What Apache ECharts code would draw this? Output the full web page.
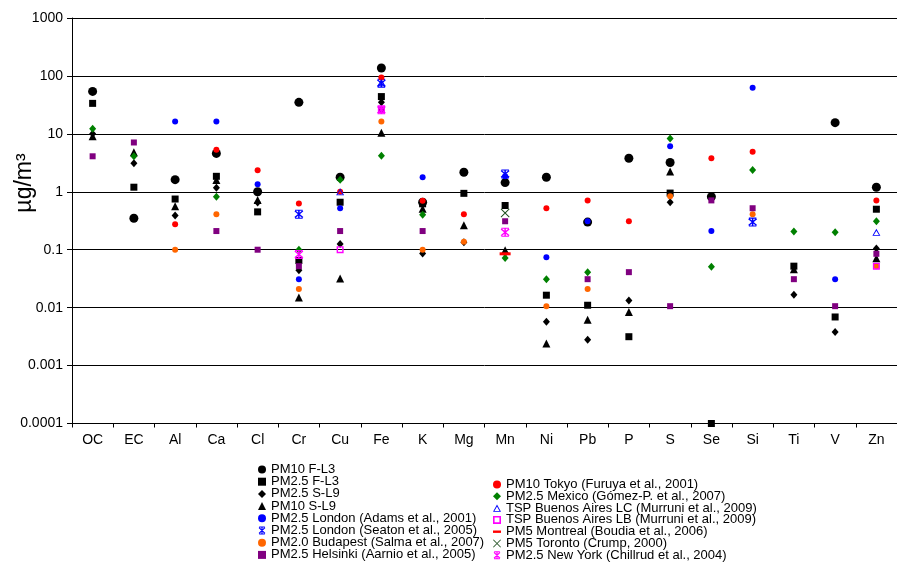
<!DOCTYPE html>
<html>
<head>
<meta charset="utf-8">
<script src="https://cdn.jsdelivr.net/npm/echarts@6/dist/echarts.min.js"></script>
<style>
html,body{margin:0;padding:0;background:#fff;}
#chart{width:897px;height:562px;}
</style>
</head>
<body>
<div id="chart"></div>
<script>
const categories = ['OC','EC','Al','Ca','Cl','Cr','Cu','Fe','K','Mg','Mn','Ni','Pb','P','S','Se','Si','Ti','V','Zn'];
const yTickLabels = ['0.0001','0.001','0.01','0.1','1','10','100','1000'];

//                    OC    EC    Al    Ca    Cl    Cr     Cu     Fe   K      Mg     Mn     Ni      Pb      P       S     Se      Si    Ti     V       Zn
const pm10FL3    = [54,   0.35, 1.62, 4.6,  1.0,  35,    1.78,  137, 0.66,  2.17,  1.44,  1.78,   0.3,    3.8,    3.2,  0.82,   null, null,  15.6,   1.2];
const pm25FL3    = [33.6, 1.2,  0.75, 1.85, 0.45, 0.065, 0.66,  44,  0.62,  0.94,  0.58,  0.0164, 0.011,  0.00315,0.95, 0.0001, null, 0.052, 0.0069, 0.5];
const pm25SL9    = [10,   3.1,  0.39, 1.17, 0.65, 0.044, 0.126, 35,  0.086, 0.135, 0.088, 0.0057, 0.0028, 0.0133, 0.66, null,   null, 0.0167,0.0038, 0.105];
const pm10SL9    = [9.1,  4.8,  0.56, 1.6,  0.72, 0.015, 0.032, 10.4,0.51,  0.264, 0.098, 0.0024, 0.0062, 0.0084, 2.23, null,   null, 0.046, null,   0.071];
const londonAdams  = [null, null, 16.4, 16.4, 1.35, 0.031, 0.52, null, 1.78, null, 1.85, 0.074, 0.31, null, 6.1, 0.21, 62.6, null, 0.031, null];
const londonSeaton = [null, null, null, null, null, 0.41, null, 75, null, null, 2.03, null, null, null, null, null, 0.30, null, null, null];
const budapest     = [null, null, 0.1, 0.41, null, 0.021, null, 16.4, 0.1, 0.137, null, 0.0106, 0.021, null, 0.84, null, 0.41, null, null, 0.052];
const helsinki     = [4.1, 7.1, null, 0.21, 0.1, 0.052, 0.21, 26, 0.21, null, 0.31, null, 0.031, 0.041, 0.0106, 0.71, 0.52, 0.031, 0.0106, 0.085];
const tokyo        = [null, null, 0.275, 5.3, 2.35, 0.63, 1.0, 94, 0.7, 0.41, null, 0.52, 0.71, 0.31, null, 3.78, 4.93, null, null, 0.71];
const mexico       = [12.3, 4.1, null, 0.82, null, 0.1, 1.62, 4.2, 0.4, null, 0.072, 0.031, 0.041, null, 8.3, 0.051, 2.38, 0.206, 0.2, 0.31];
const buenosAiresLC = [null, null, null, null, null, null, 1.0, 77, null, null, null, null, null, null, null, null, null, null, null, 0.2];
const buenosAiresLB = [null, null, null, null, null, null, 0.1, 26, null, null, null, null, null, null, null, null, null, null, null, 0.052];
const montreal     = [null, null, null, null, null, null, null, null, null, null, 0.085, null, null, null, null, null, null, null, null, null];
const toronto      = [null, null, null, null, null, null, null, null, null, null, 0.43, null, null, null, null, null, null, null, null, null];
const newYork      = [null, null, null, null, null, 0.083, null, 26, null, null, 0.2, null, null, null, null, null, null, null, null, null];

const ASTER = 'path://M4.3,0 L5.7,0 L5.7,10 L4.3,10 Z M1.8,0.8 L9.2,8.2 L8.2,9.2 L0.8,1.8 Z M8.2,0.8 L9.2,1.8 L1.8,9.2 L0.8,8.2 Z M1.5,0 L8.5,0 L8.5,1.2 L1.5,1.2 Z M1.5,8.8 L8.5,8.8 L8.5,10 L1.5,10 Z';
const XMARK = 'path://M1.2,0.5 L9.5,8.8 L8.8,9.5 L0.5,1.2 Z M8.8,0.5 L9.5,1.2 L1.2,9.5 L0.5,8.8 Z';
const OPENTRI = 'path://M5,0 L10,9 L0,9 Z M5,2.4 L1.8,8 L8.2,8 Z';
const OPENSQ = 'path://M0,0 L10,0 L10,10 L0,10 Z M2,2 L2,8 L8,8 L8,2 Z';
const DASH = 'path://M0,0 L10,0 L10,3 L0,3 Z';

const defs = [
  {name:'PM10 F-L3', data:pm10FL3, symbol:'circle', size:9, color:'#000000'},
  {name:'PM2.5 F-L3', data:pm25FL3, symbol:'rect', size:7, color:'#000000'},
  {name:'PM2.5 S-L9', data:pm25SL9, symbol:'diamond', size:[7,8], color:'#000000'},
  {name:'PM10 S-L9', data:pm10SL9, symbol:'triangle', size:8, color:'#000000'},
  {name:'PM2.5 London (Adams et al., 2001)', data:londonAdams, symbol:'circle', size:6, color:'#0000FF'},
  {name:'PM2.5 London (Seaton et al., 2005)', data:londonSeaton, symbol:ASTER, size:9, color:'#0000FF'},
  {name:'PM2.0 Budapest (Salma et al., 2007)', data:budapest, symbol:'circle', size:6, color:'#FF6600'},
  {name:'PM2.5 Helsinki (Aarnio et al., 2005)', data:helsinki, symbol:'rect', size:6, color:'#800080'},
  {name:'PM10 Tokyo (Furuya et al., 2001)', data:tokyo, symbol:'circle', size:6, color:'#FF0000'},
  {name:'PM2.5 Mexico (Gómez-P. et al., 2007)', data:mexico, symbol:'diamond', size:[7,8], color:'#008000'},
  {name:'TSP Buenos Aires LC (Murruni et al., 2009)', data:buenosAiresLC, symbol:OPENTRI, size:[8,7], color:'#0000FF'},
  {name:'TSP Buenos Aires LB (Murruni et al., 2009)', data:buenosAiresLB, symbol:OPENSQ, size:7, color:'#FF00FF'},
  {name:'PM5 Montreal (Boudia et al., 2006)', data:montreal, symbol:DASH, size:[11,3], color:'#FF0000'},
  {name:'PM5 Toronto (Crump, 2000)', data:toronto, symbol:XMARK, size:9, color:'#1F4F1F'},
  {name:'PM2.5 New York (Chillrud et al., 2004)', data:newYork, symbol:ASTER, size:9, color:'#FF00FF'}
];

const series = defs.map(d => ({
  type:'scatter',
  name:d.name,
  data:d.data.map(v => v == null ? '-' : v),
  symbol:d.symbol,
  symbolSize:d.size,
  itemStyle:{color:d.color, opacity:1},
  silent:true
}));

const legendText = {fontFamily:'Liberation Sans, Arial, sans-serif', fontSize:13, color:'#000', lineHeight:12};

const chart = echarts.init(document.getElementById('chart'), null, {renderer:'canvas'});
chart.setOption({
  animation:false,
  backgroundColor:'#ffffff',
  grid:{left:72, top:18, width:835, height:405.5, containLabel:false},
  xAxis:{
    type:'category',
    data:categories,
    boundaryGap:true,
    axisLine:{show:true, lineStyle:{color:'#000', width:1}},
    axisTick:{show:true, length:4, lineStyle:{color:'#000'}, interval:0},
    axisLabel:{interval:0, margin:10, fontFamily:'Liberation Sans, Arial, sans-serif', fontSize:14, color:'#000'},
    splitLine:{show:false}
  },
  yAxis:{
    type:'log',
    logBase:10,
    min:0.0001,
    max:1000,
    splitNumber:7,
    axisLine:{show:true, lineStyle:{color:'#000', width:1}},
    axisTick:{show:true, length:5, inside:false, lineStyle:{color:'#000'}},
    axisLabel:{
      margin:9,
      fontFamily:'Liberation Sans, Arial, sans-serif', fontSize:14, color:'#000',
      formatter: v => yTickLabels[Math.round(Math.log10(v)) + 4]
    },
    splitLine:{show:true, lineStyle:{color:'#000', width:1}}
  },
  legend:[
    {
      orient:'vertical', left:258, top:463, height:400, padding:0, itemWidth:8, itemHeight:8, itemGap:-0.8,
      textStyle:legendText, selectedMode:false,
      data:defs.slice(0,8).map(d => d.name)
    },
    {
      orient:'vertical', left:493, top:478, height:400, padding:0, itemWidth:8, itemHeight:8, itemGap:-1.2,
      textStyle:legendText, selectedMode:false,
      data:defs.slice(8).map(d => d.name)
    }
  ],
  graphic:[{
    type:'text',
    x:25, y:183,
    rotation:Math.PI/2,
    style:{text:'µg/m³', font:'23px "Liberation Sans", Arial, sans-serif', fill:'#000', textAlign:'center', textVerticalAlign:'middle'}
  }],
  series:series
});
</script>
</body>
</html>
